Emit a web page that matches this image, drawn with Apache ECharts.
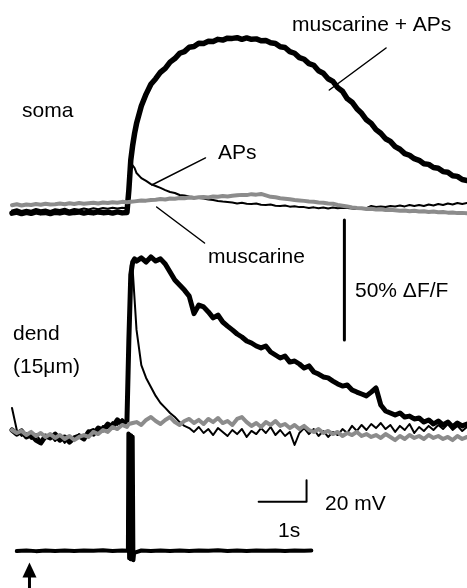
<!DOCTYPE html>
<html>
<head>
<meta charset="utf-8">
<script src="https://cdn.jsdelivr.net/npm/echarts@6/dist/echarts.min.js"></script>
<style>
html,body{margin:0;padding:0;background:#fff;}
#chart{width:467px;height:588px;}
</style>
</head>
<body>
<div id="chart"></div>
<script>
// ---- time base for imaging traces (s) ----
const time = [0,0.1,0.2,0.3,0.4,0.5,0.6,0.7,0.8,0.9,1.0,1.1,1.2,1.3,1.4,1.5,1.6,1.7,1.8,1.9,2.0,2.1,2.2,2.3,2.4,
  2.44,2.48,2.52,2.56,
  2.6,2.7,2.8,2.9,3.0,3.1,3.2,3.3,3.4,3.5,3.6,3.7,3.8,3.9,4.0,4.1,4.2,4.3,4.4,4.5,4.6,4.7,4.8,4.9,
  5.0,5.1,5.2,5.3,5.4,5.5,5.6,5.7,5.8,5.9,6.0,6.1,6.2,6.3,6.4,6.5,6.6,6.7,6.8,6.9,
  7.0,7.1,7.2,7.3,7.4,7.5,7.6,7.7,7.8,7.9,8.0,8.1,8.2,8.3,8.4,8.5,8.6,8.7,8.8,8.9,
  9.0,9.1,9.2,9.3,9.4,9.5];

// ---- soma, % dF/F ----
const somaMusAPs = [-1.3,-0.9,-1.5,-1.0,-1.4,-0.8,-1.2,-1.0,-1.5,-0.9,-1.2,-0.8,-1.3,-1.0,-0.8,-1.3,-0.9,-1.2,-0.8,-1.1,-0.9,-1.3,-0.8,-1.2,-1.0,
  8.3,20.8,27,32,
  36,43.3,48.3,52.4,54.7,57.4,59.0,61.6,63.1,65.3,66.0,67.8,68.1,69.5,69.4,70.3,70.2,71.1,70.8,71.6,71.5,71.8,71.1,71.7,
  71.1,71.3,70.5,70.6,69.7,69.4,68.0,67.7,66.0,65.3,63.5,62.8,61.0,60.3,58.0,57.0,54.7,53.6,51.0,49.5,
  46.4,44.9,42.2,40.3,37.6,36.1,33.5,32.0,29.7,28.6,26.4,25.3,23.5,22.8,21.4,20.7,19.3,19.0,17.7,17.4,
  16.0,15.7,14.3,14.0,12.7,12.3];
const somaAPs = [-0.2,0.3,-0.4,0.1,-0.3,0.4,-0.1,0.2,-0.4,0.3,0.0,0.5,-0.2,0.4,0.1,0.6,0.2,0.7,0.3,0.8,0.5,0.9,0.6,0.9,0.7,
  8.3,19.6,19.2,17.5,
  15.4,13.3,12.1,10.8,10.0,9.2,8.3,7.5,7.1,6.25,6.0,5.6,5.4,5.0,4.8,4.4,4.2,3.75,3.5,3.3,3.1,2.7,3.0,2.6,
  2.5,2.7,2.2,2.1,2.3,1.8,1.7,1.9,1.4,1.6,1.2,1.2,0.8,1.1,0.7,1.0,0.6,1.0,0.7,0.9,
  0.8,0.6,0.4,0.4,0.8,1.7,1.25,1.5,1.25,1.7,1.5,1.9,1.5,2.1,1.7,2.1,1.7,2.3,1.9,2.5,
  2.1,2.7,2.3,2.9,2.5,2.9];
const somaMus = [2.0,2.4,1.9,2.3,2.1,2.5,2.2,2.6,2.3,2.4,2.7,2.4,2.8,2.5,2.9,2.6,2.8,3.0,2.7,3.1,2.9,3.2,3.0,3.4,3.2,
  3.5,3.4,3.7,3.6,
  3.8,4.0,3.9,4.2,4.3,4.6,4.4,4.8,4.7,5.0,4.9,5.2,5.0,5.3,5.4,5.2,5.6,5.5,5.8,5.6,5.9,6.1,6.3,6.2,
  6.6,6.4,6.7,6.1,5.5,5.3,4.9,4.7,4.5,4.2,4.0,3.8,3.5,3.4,3.1,3.0,2.7,2.6,2.1,1.8,
  1.5,1.1,0.8,0.7,0.4,0.5,0.2,0.3,0.0,0.1,-0.1,-0.3,-0.2,-0.5,-0.3,-0.6,-0.5,-0.8,-0.6,-0.9,
  -0.8,-1.1,-1.0,-1.3,-1.2,-1.4];

// ---- dendrite (15 um), % dF/F ----
const dendMusAPs = [0,-1.7,-0.4,-2.9,-2.1,-4.2,-5.4,-2.5,-3.3,-1.7,-4.2,-2.9,-5.0,-3.3,-2.5,-3.75,-0.8,-1.7,0.8,0,2.5,1.25,4.2,2.5,3.75,
  37.5,64.6,70,71.3,
  70.4,71.7,70,72.1,70.4,71.3,69.2,65.8,62.5,60.4,58.3,55.8,48.5,52.1,51.3,49.2,46.7,47.9,45,43.3,41.7,40,38.75,37.1,
  36.25,35,34.2,35,32.5,31.25,30,30.8,28.3,28.75,27.5,25.8,26.7,24.2,23.3,22.1,21.7,20.4,19.2,18.3,
  18.75,16.7,15.8,15,14.2,15.8,17.5,10.4,7.9,7.1,6.25,7.1,5.4,5.8,4.6,5,3.3,4.2,2.5,3.75,
  2.1,3.3,1.25,2.9,1.7,2.5];
const dendAPs = [9.2,0,-2.5,-1.25,-3.75,-1.7,-4.6,-3.3,-2.1,-4.6,-2.5,-5.4,-2.9,-4.2,-1.7,-2.9,-0.4,0.4,-1.25,1.7,0.8,3.3,2.1,4.6,2.9,
  41.7,68.75,66.7,54.2,
  41.7,27,21.7,17.9,14.2,11.25,9.2,7.1,5.4,3.3,1.7,0.8,-0.8,1.25,-1.25,0.4,-2.1,0.8,-0.8,-2.5,0,-1.7,0.4,-2.9,
  -0.4,-1.7,0.8,-1.25,1.25,-2.1,0,-2.5,-0.8,-6.25,-1.25,0.8,-1.7,0.4,-2.5,-0.4,-2.9,-0.8,-2.1,0.4,
  -1.25,1.7,-0.4,2.1,0,2.5,0.8,2.9,0.4,2.1,-0.8,1.7,0,2.5,-1.25,1.25,-0.4,1.7,0,2.1,
  0.4,2.5,0,1.7,-0.4,1.25];
const dendMus = [0,-1.25,-0.4,-2.1,-0.8,-2.5,-1.25,-2.9,-1.7,-3.3,-2.1,-3.75,-2.5,-4.2,-2.9,-2.1,-2.9,-0.8,-1.7,0,-0.8,1.25,0.4,2.1,1.25,
  2.5,1.7,2.9,2.1,
  3.3,2.1,4.2,5.4,3.75,2.5,4.2,5.4,3.3,2.1,3.75,4.6,2.9,4.2,2.5,4.6,3.3,5,2.9,3.75,2.1,4.6,5.4,3.3,
  1.7,2.9,1.25,3.3,2.1,3.75,1.7,2.5,0.8,2.1,0.4,1.7,0,-0.8,0.4,-1.25,-0.4,-1.7,-0.8,-2.5,
  -1.25,-2.1,-0.8,-2.5,-1.7,-2.9,-2.1,-3.3,-1.7,-2.9,-4.2,-2.5,-3.75,-2.1,-3.3,-2.5,-3.75,-2.1,-3.3,-2.5,
  -3.75,-2.9,-4.2,-2.5,-3.75,-2.9];

// ---- membrane potential (mV) ----
const vTime = [0.1,0.3,0.5,0.7,0.9,1.1,1.3,1.5,1.7,1.9,2.1,2.3,
  2.42,2.43,2.445,2.46,2.475,2.49,2.505,2.52,2.535,2.55,
  2.7,2.9,3.1,3.3,3.5,3.7,3.9,4.1,4.3,4.5,4.7,4.9,5.1,5.3,5.5,5.7,5.9,6.1,6.25];
const vValues = [-65.3,-64.8,-65.4,-64.9,-65.2,-64.7,-65.3,-64.9,-65.1,-64.6,-65.2,-64.8,
  -65,45,-72,44,-73,43,-73,42,-74,-67,
  -64.8,-65.3,-64.7,-65.2,-64.8,-65.3,-64.9,-65.1,-64.6,-65.2,-64.8,-65.3,-64.7,-65.1,-64.8,-65.2,-64.7,-65.0,-64.9];

// ---- scale bars, stimulus arrow, label pointers ----
const fBarTime = [6.94, 6.94];      const fBarValues = [37.5, 87.5];   // 50% dF/F
const sBarTime = [5.15, 6.15, 6.15]; const sBarMv = [-19, -19, 1];     // 1 s, 20 mV
const arrowTime = [0.365, 0.365];    const arrowMv = [-100, -85];
const arrowHead = [0.365, -83];
const ptrMusAPsT = [7.81, 6.625];    const ptrMusAPsV = [67.5, 50];
const ptrAPsT = [4.04, 2.92];        const ptrAPsV = [21.7, 10.4];
const ptrMusT = [3.02, 4.02];        const ptrMusV = [1.25, -13.75];

const labels = [
  {text: 'muscarine + APs', x: 292, y: 25},
  {text: 'soma', x: 22, y: 111},
  {text: 'APs', x: 218, y: 153},
  {text: 'muscarine', x: 208, y: 257},
  {text: '50% ΔF/F', x: 355, y: 291},
  {text: 'dend', x: 13, y: 334},
  {text: '(15μm)', x: 13, y: 367},
  {text: '20 mV', x: 325, y: 504},
  {text: '1s', x: 278, y: 531}
];

function pairs(xs, ys) { return xs.map((t, i) => [t, ys[i]]); }
function line(xs, ys, g, color, width, z) {
  return {
    type: 'line', xAxisIndex: g, yAxisIndex: g, data: pairs(xs, ys),
    symbol: 'none', z: z || 2, silent: true, animation: false,
    lineStyle: {color: color, width: width, join: 'round', cap: 'round'}
  };
}
const GRAY = '#8c8c8c', BLACK = '#000';

const chart = echarts.init(document.getElementById('chart'), null, {renderer: 'canvas'});
const xAx = i => ({type: 'value', gridIndex: i, min: 0, max: 9.5, show: false});
chart.setOption({
  backgroundColor: '#fff',
  animation: false,
  grid: [
    {left: 12, top: 18, width: 456, height: 252},
    {left: 12, top: 214, width: 456, height: 240},
    {left: 12, top: 417.5, width: 456, height: 176}
  ],
  xAxis: [xAx(0), xAx(1), xAx(2)],
  yAxis: [
    {type: 'value', gridIndex: 0, min: -25, max: 80, show: false},
    {type: 'value', gridIndex: 1, min: -10, max: 90, show: false},
    {type: 'value', gridIndex: 2, min: -100, max: 60, show: false}
  ],
  series: [
    line(time, somaMusAPs, 0, BLACK, 5.5, 3),
    line(time, somaAPs, 0, BLACK, 2, 4),
    line(time, somaMus, 0, GRAY, 4, 5),
    line(time, dendMusAPs, 1, BLACK, 5, 3),
    line(time, dendAPs, 1, BLACK, 2, 4),
    line(time, dendMus, 1, GRAY, 4, 5),
    line(vTime, vValues, 2, BLACK, 4, 3),
    line(fBarTime, fBarValues, 1, BLACK, 3, 6),
    line(sBarTime, sBarMv, 2, BLACK, 2, 6),
    line(ptrMusAPsT, ptrMusAPsV, 0, BLACK, 1.5, 6),
    line(ptrAPsT, ptrAPsV, 0, BLACK, 1.5, 6),
    line(ptrMusT, ptrMusV, 0, BLACK, 1.5, 6),
    line(arrowTime, arrowMv, 2, BLACK, 3, 6),
    {
      type: 'scatter', xAxisIndex: 2, yAxisIndex: 2, silent: true, animation: false, z: 7,
      data: [arrowHead], symbol: 'triangle', symbolSize: [14, 15],
      itemStyle: {color: BLACK, opacity: 1}
    }
  ],
  graphic: labels.map(l => ({
    type: 'text', x: l.x, y: l.y, silent: true, z: 10,
    style: {text: l.text, fill: '#000', font: '21px "Liberation Sans", Arial, Helvetica, sans-serif',
            align: 'left', verticalAlign: 'middle'}
  }))
});
</script>
</body>
</html>
